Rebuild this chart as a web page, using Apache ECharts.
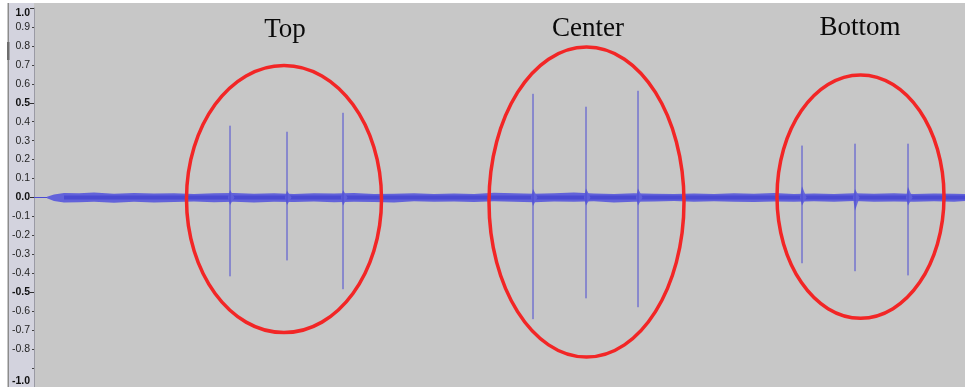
<!DOCTYPE html>
<html>
<head>
<meta charset="utf-8">
<title>Waveform</title>
<script src="https://cdn.jsdelivr.net/npm/echarts@6/dist/echarts.min.js"></script>
<style>
  html, body { margin: 0; padding: 0; background: #ffffff; }
  #chart { width: 965px; height: 387px; }
</style>
</head>
<body>
<div id="chart"></div>
<script>
// Time span of the recording (seconds) and amplitude range
const timeMax = 9.31;
const ampMin = -1;
const ampMax = 1;
const ampStep = 0.1;

// Noise floor envelope (seconds, upper / lower amplitude)
const noiseT  = [0.13,0.20,0.30,0.45,0.60,0.80,1.00,1.20,1.40,1.60,1.80,2.00,2.20,2.40,2.60,2.80,3.00,3.20,3.40,3.60,3.80,4.00,4.20,4.40,4.60,4.80,5.00,5.20,5.40,5.60,5.80,6.00,6.20,6.40,6.60,6.80,7.00,7.20,7.40,7.60,7.80,8.00,8.20,8.40,8.60,8.80,9.00,9.20,9.31];
const noiseHi = [0.004,0.016,0.024,0.022,0.026,0.020,0.024,0.021,0.023,0.019,0.022,0.024,0.020,0.023,0.018,0.022,0.021,0.024,0.019,0.020,0.023,0.018,0.021,0.019,0.025,0.022,0.020,0.023,0.027,0.021,0.019,0.022,0.020,0.018,0.021,0.019,0.022,0.020,0.024,0.019,0.021,0.018,0.023,0.020,0.022,0.019,0.021,0.020,0.018];
const noiseLo = [-0.004,-0.018,-0.027,-0.025,-0.023,-0.028,-0.022,-0.026,-0.024,-0.021,-0.025,-0.023,-0.027,-0.022,-0.024,-0.021,-0.025,-0.022,-0.024,-0.026,-0.020,-0.023,-0.021,-0.024,-0.020,-0.022,-0.025,-0.021,-0.023,-0.020,-0.026,-0.022,-0.021,-0.019,-0.023,-0.020,-0.022,-0.024,-0.021,-0.023,-0.020,-0.022,-0.019,-0.023,-0.021,-0.022,-0.020,-0.023,-0.019];

// Impulses: time, peak, trough, and the ringing around each onset
const spikeT      = [1.96, 2.53, 3.09, 4.99, 5.52, 6.04, 7.68, 8.21, 8.74];
const spikeMax    = [0.379, 0.347, 0.447, 0.547, 0.479, 0.563, 0.274, 0.284, 0.284];
const spikeMin    = [-0.416, -0.332, -0.484, -0.642, -0.532, -0.579, -0.347, -0.389, -0.411];
const spikeBaseHi = [0.040, 0.036, 0.040, 0.045, 0.048, 0.048, 0.060, 0.045, 0.055];
const spikeBaseLo = [-0.040, -0.040, -0.042, -0.045, -0.042, -0.042, -0.042, -0.070, -0.042];

// Tap groups: ellipse centre (s, amplitude), radii (s, amplitude), caption
const groupNames = ['Top', 'Center', 'Bottom'];
const groupT     = [2.50, 5.525, 8.265];
const groupV     = [-0.008, -0.024, 0.005];
const groupRx    = [0.975, 0.975, 0.835];
const groupRy    = [0.705, 0.818, 0.642];
const captionT   = [2.51, 5.54, 8.26];
const captionV   = [0.882, 0.889, 0.895];

const majorLabels = ['1.0', '0.5', '0.0', '-0.5', '-1.0'];
const hiddenLabels = ['-0.9'];

const WAVE = '#4a4ad2';
const WAVE_EDGE = '#6262da';
const RING = '#f22626';

const chart = echarts.init(document.getElementById('chart'), null, { renderer: 'canvas' });

const spikeData = spikeT.map((t, i) => [t, spikeMax[i], spikeMin[i], spikeBaseHi[i], spikeBaseLo[i]]);
const groupData = groupT.map((t, i) => [t, groupV[i], groupRx[i], groupRy[i]]);
const captionData = captionT.map((t, i) => [t, captionV[i], groupNames[i]]);

const option = {
  backgroundColor: '#ffffff',
  animation: false,
  graphic: [
    { type: 'rect', z: -20, silent: true, shape: { x: 34, y: 3, width: 931, height: 384 }, style: { fill: '#c7c7c7' } },
    { type: 'rect', z: -20, silent: true, shape: { x: 9, y: 3, width: 25, height: 384 }, style: { fill: '#d3d3de' } },
    { type: 'rect', z: -20, silent: true, shape: { x: 7.5, y: 3, width: 1.5, height: 384 }, style: { fill: '#8c8c8c' } },
    { type: 'rect', z: -20, silent: true, shape: { x: 7, y: 42, width: 2.5, height: 18 }, style: { fill: '#6e6e6e' } }
  ],
  grid: { left: 34, right: 0, top: 8, height: 380, containLabel: false },
  xAxis: { type: 'value', min: 0, max: timeMax, show: false },
  yAxis: [
    {
      type: 'value', min: ampMin, max: ampMax, interval: ampStep, position: 'left',
      axisLine: { show: true, lineStyle: { color: '#9a9aa4', width: 1 } },
      axisTick: { show: true, length: 2, lineStyle: { color: '#404040' } },
      splitLine: { show: false },
      axisLabel: {
        margin: 4,
        fontFamily: 'Liberation Sans',
        fontSize: 10.5,
        color: '#262626',
        verticalAlignMaxLabel: 'top',
        verticalAlignMinLabel: 'bottom',
        formatter: function (v) {
          const s = (Math.abs(v) < 1e-9 ? 0 : v).toFixed(1);
          if (hiddenLabels.indexOf(s) >= 0) return '';
          return majorLabels.indexOf(s) >= 0 ? '{b|' + s + '}' : s;
        },
        rich: {
          b: { fontFamily: 'Liberation Sans', fontSize: 10.5, fontWeight: 'bold', color: '#111' }
        }
      }
    },
    {
      type: 'value', min: ampMin, max: ampMax, interval: 0.5, position: 'left',
      axisLine: { show: false },
      axisTick: { show: true, length: 4, lineStyle: { color: '#303030' } },
      axisLabel: { show: false },
      splitLine: { show: false }
    }
  ],
  series: [
    {
      // lead-in before the noise floor starts
      type: 'line',
      data: [[0, 0], [noiseT[0], 0]],
      symbol: 'none',
      lineStyle: { color: WAVE, width: 1 },
      z: 2
    },
    {
      // noise floor envelope
      type: 'custom',
      data: [[noiseT[0], 0]],
      encode: { x: 0, y: 1 },
      clip: false,
      z: 2,
      renderItem: function (params, api) {
        const pts = [];
        for (let i = 0; i < noiseT.length; i++) pts.push(api.coord([noiseT[i], noiseHi[i]]));
        for (let i = noiseT.length - 1; i >= 0; i--) pts.push(api.coord([noiseT[i], noiseLo[i]]));
        return { type: 'polygon', shape: { points: pts }, style: { fill: WAVE_EDGE } };
      }
    },
    {
      // dense core of the noise floor
      type: 'line',
      data: [[noiseT[2], 0], [noiseT[noiseT.length - 1], 0]],
      symbol: 'none',
      lineStyle: { color: WAVE, width: 4 },
      z: 3
    },
    {
      // tap impulses
      type: 'custom',
      data: spikeData,
      encode: { x: 0, y: [1, 2] },
      clip: false,
      z: 4,
      renderItem: function (params, api) {
        const t = api.value(0);
        const top = api.coord([t, api.value(1)]);
        const bot = api.coord([t, api.value(2)]);
        const bh = api.coord([t, api.value(3)]);
        const bl = api.coord([t, api.value(4)]);
        const l = api.coord([t - 0.02, 0]);
        const r = api.coord([t + 0.045, 0]);
        return {
          type: 'group',
          children: [
            { type: 'polygon', shape: { points: [l, bh, r, bl] }, style: { fill: WAVE_EDGE, opacity: 0.9 } },
            { type: 'line', shape: { x1: top[0], y1: top[1], x2: bot[0], y2: bot[1] }, style: { stroke: WAVE, lineWidth: 1 } }
          ]
        };
      }
    },
    {
      // group outlines
      type: 'custom',
      data: groupData,
      encode: { x: 0, y: 1 },
      clip: false,
      z: 6,
      renderItem: function (params, api) {
        const c = api.coord([api.value(0), api.value(1)]);
        const s = api.size([api.value(2), api.value(3)]);
        return {
          type: 'ellipse',
          shape: { cx: c[0], cy: c[1], rx: s[0], ry: s[1] },
          style: { fill: 'none', stroke: RING, lineWidth: 3.5 }
        };
      }
    },
    {
      // group captions
      type: 'custom',
      data: captionData,
      encode: { x: 0, y: 1 },
      clip: false,
      z: 7,
      renderItem: function (params, api) {
        const p = api.coord([api.value(0), api.value(1)]);
        return {
          type: 'text',
          x: p[0],
          y: p[1],
          style: {
            text: captionData[params.dataIndex][2],
            fontFamily: 'Liberation Serif',
            fontSize: 27,
            fill: '#0a0a0a',
            align: 'center',
            verticalAlign: 'middle'
          }
        };
      }
    }
  ]
};

chart.setOption(option);
</script>
</body>
</html>
